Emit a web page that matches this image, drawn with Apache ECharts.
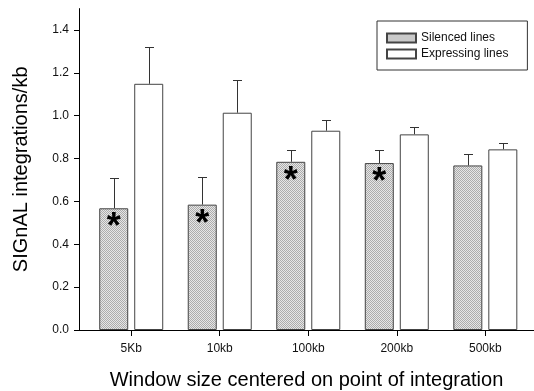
<!DOCTYPE html>
<html><head><meta charset="utf-8">
<script src="https://cdn.jsdelivr.net/npm/echarts@6/dist/echarts.min.js"></script>
<style>html,body{margin:0;padding:0;background:#fff}#c{width:534px;height:391px}</style>
</head><body><div id="c"></div>
<script>
const categories = ['5Kb', '10kb', '100kb', '200kb', '500kb'];
const silenced = [0.568, 0.585, 0.785, 0.779, 0.768];
const silencedErr = [0.140, 0.130, 0.056, 0.062, 0.052];
const expressing = [1.149, 1.014, 0.930, 0.913, 0.843];
const expressingErr = [0.173, 0.153, 0.048, 0.036, 0.031];
const marks = ['*', '*', '*', '*', ''];
const yTicks = [0.0, 0.2, 0.4, 0.6, 0.8, 1.0, 1.2, 1.4];

const BW = 29, GAP = 6;
const pat = document.createElement('canvas');
pat.width = 2; pat.height = 2;
const pc = pat.getContext('2d');
pc.fillStyle = '#e6e6e6'; pc.fillRect(0, 0, 2, 2);
pc.fillStyle = '#acacac'; pc.fillRect(0, 0, 1, 1); pc.fillRect(1, 1, 1, 1);

function errSeries(vals, errs, side) {
  return {
    type: 'custom',
    data: vals.map((v, i) => [i, v, v + errs[i]]),
    z: 1,
    silent: true,
    renderItem: function (params, api) {
      const off = side * (BW + GAP) / 2;
      const p0 = api.coord([api.value(0), api.value(1)]);
      const p1 = api.coord([api.value(0), api.value(2)]);
      const x = Math.round(p0[0] + off) + 0.5;
      return {
        type: 'group',
        children: [
          { type: 'line', shape: { x1: x, y1: p0[1], x2: x, y2: Math.round(p1[1]) + 0.5 }, style: { stroke: '#333', lineWidth: 1 } },
          { type: 'line', shape: { x1: x - 4.5, y1: Math.round(p1[1]) + 0.5, x2: x + 4.5, y2: Math.round(p1[1]) + 0.5 }, style: { stroke: '#333', lineWidth: 1 } }
        ]
      };
    }
  };
}

const chart = echarts.init(document.getElementById('c'));
chart.setOption({
  animation: false,
  textStyle: { fontFamily: 'Liberation Sans, Arial, sans-serif' },
  grid: { left: 79, right: 0, top: 8.6, bottom: 61, outerBoundsMode: 'none', containLabel: false },
  legend: {
    orient: 'vertical',
    left: 377, top: 21,
    padding: [11, 19, 10, 9],
    icon: 'rect',
    itemWidth: 29, itemHeight: 9, itemGap: 4,
    borderColor: '#333', borderWidth: 1,
    textStyle: { fontSize: 12, color: '#111', fontFamily: 'Liberation Sans, Arial, sans-serif' },
    data: ['Silenced lines', 'Expressing lines']
  },
  xAxis: {
    type: 'value',
    min: -0.59, max: 4.55,
    name: 'Window size centered on point of integration',
    nameLocation: 'middle', nameGap: 40,
    nameTextStyle: { fontSize: 20, color: '#000' },
    splitLine: { show: false },
    axisLine: { show: true, onZero: false, lineStyle: { color: '#000' } },
    axisTick: { show: true, length: 6, customValues: [0, 1, 2, 3, 4], lineStyle: { color: '#000' } },
    axisLabel: { customValues: [0, 1, 2, 3, 4], margin: 13, fontSize: 12, color: '#111', formatter: v => categories[Math.round(v)] }
  },
  yAxis: {
    type: 'value',
    min: 0, max: 1.5,
    name: 'SIGnAL integrations/kb',
    nameLocation: 'middle', nameGap: 47.5,
    nameTextStyle: { fontSize: 20, color: '#000' },
    splitLine: { show: false },
    axisLine: { show: true, onZero: false, lineStyle: { color: '#000' } },
    axisTick: { show: true, length: 5, customValues: yTicks, lineStyle: { color: '#000' } },
    axisLabel: { customValues: yTicks, margin: 10, fontSize: 12, color: '#111', formatter: v => v.toFixed(1) }
  },
  series: [
    {
      name: 'Silenced lines', type: 'bar', barWidth: BW, barGap: (GAP / BW * 100) + '%',
      data: silenced.map((v, i) => [i, v]),
      itemStyle: { color: { image: pat, repeat: 'repeat' }, borderColor: '#444', borderWidth: 1 },
      label: { show: true, position: 'insideTop', distance: 2, formatter: p => marks[p.dataIndex], fontSize: 36, fontWeight: 'bold', color: '#000', fontFamily: 'Liberation Sans, Arial, sans-serif' },
      z: 2
    },
    {
      name: 'Expressing lines', type: 'bar', barWidth: BW,
      data: expressing.map((v, i) => [i, v]),
      itemStyle: { color: '#fff', borderColor: '#444', borderWidth: 1 },
      z: 2
    },
    errSeries(silenced, silencedErr, -1),
    errSeries(expressing, expressingErr, 1)
  ]
});
</script></body></html>
